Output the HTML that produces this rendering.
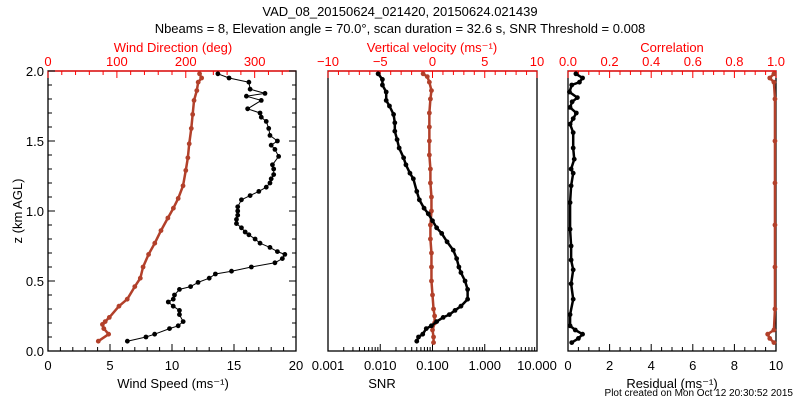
<!DOCTYPE html>
<html><head><meta charset="utf-8"><style>
body{margin:0;background:#fff;}
svg{display:block;font-family:"Liberation Sans",sans-serif;}
</style></head><body>
<svg id="c" width="800" height="400" viewBox="0 0 800 400">
<text x="400" y="16" text-anchor="middle" font-size="13">VAD_08_20150624_021420, 20150624.021439</text>
<text x="400" y="33" text-anchor="middle" font-size="13">Nbeams = 8, Elevation angle = 70.0°, scan duration = 32.6 s, SNR Threshold = 0.008</text>
<text x="22" y="211" text-anchor="middle" font-size="13" transform="rotate(-90 22 211)">z (km AGL)</text>
<text x="793" y="396" text-anchor="end" font-size="10">Plot created on Mon Oct 12 20:30:52 2015</text>
<g id="g"></g>
</svg>
<script>
// Panel 1: wind speed (black) and wind direction (red)
const wsZ=[0.07,0.10,0.12,0.16,0.18,0.21,0.26,0.29,0.32,0.35,0.37,0.40,0.44,0.46,0.49,0.52,0.55,0.57,0.60,0.63,0.66,0.69,0.71,0.74,0.77,0.80,0.83,0.85,0.88,0.91,0.94,0.97,1.00,1.03,1.08,1.11,1.14,1.17,1.20,1.23,1.26,1.30,1.33,1.39,1.44,1.47,1.50,1.54,1.59,1.64,1.67,1.70,1.73,1.79,1.82,1.84,1.87,1.92,1.95,1.98];
const wsVal=[6.4,7.9,8.6,9.8,10.5,10.9,10.6,10.6,10.1,9.7,10.1,10.2,10.6,11.5,12.1,13.0,13.5,14.8,16.4,18.3,18.9,19.1,18.5,17.9,17.1,16.7,16.2,15.9,15.6,15.2,15.2,15.3,15.3,15.3,15.6,16.3,17.0,17.6,17.9,18.0,18.2,18.2,18.1,18.6,18.3,18.0,18.5,17.9,17.8,17.6,17.2,17.1,16.1,17.2,16.0,17.5,16.3,16.2,14.6,13.7];
const wdZ=[0.07,0.12,0.16,0.19,0.21,0.24,0.32,0.37,0.46,0.52,0.60,0.69,0.77,0.86,0.95,1.02,1.09,1.18,1.29,1.38,1.48,1.59,1.69,1.79,1.86,1.92,1.95,1.98];
const wdVal=[73,88,81,79,83,89,103,115,126,134,138,146,155,164,174,182,189,196,200,203,205,208,210,212,216,218,223,220];
// Panel 2: SNR (black) and vertical velocity (red)
const snrZ=[0.07,0.10,0.12,0.16,0.18,0.21,0.24,0.26,0.29,0.32,0.37,0.44,0.50,0.56,0.60,0.66,0.72,0.78,0.84,0.88,0.93,0.98,1.02,1.08,1.14,1.23,1.27,1.33,1.38,1.45,1.51,1.57,1.63,1.69,1.75,1.79,1.85,1.90,1.94,1.98];
const snrVal=[0.050,0.054,0.065,0.076,0.095,0.12,0.16,0.21,0.27,0.35,0.47,0.47,0.42,0.35,0.32,0.29,0.25,0.19,0.15,0.12,0.10,0.083,0.069,0.056,0.050,0.043,0.037,0.031,0.028,0.023,0.021,0.019,0.019,0.018,0.015,0.013,0.013,0.011,0.011,0.0091];
const wZ=[0.06,0.10,0.15,0.20,0.25,0.30,0.40,0.50,0.60,0.70,0.80,0.90,1.00,1.10,1.20,1.30,1.40,1.50,1.60,1.70,1.80,1.86,1.92,1.96,1.98];
const wVal=[0.1,0.1,0.0,0.2,0.2,0.1,0.0,-0.1,-0.1,-0.1,-0.2,-0.2,-0.1,-0.1,-0.2,-0.2,-0.3,-0.3,-0.3,-0.3,-0.2,-0.1,-0.3,-0.5,-0.9];
// Panel 3: residual (black) and correlation (red)
const resZ=[0.06,0.09,0.12,0.15,0.18,0.26,0.37,0.48,0.58,0.65,0.75,0.87,1.06,1.18,1.27,1.30,1.37,1.45,1.56,1.62,1.66,1.70,1.74,1.78,1.81,1.85,1.90,1.92,1.95,1.98];
const resVal=[0.18,0.5,0.7,0.35,0.1,0.1,0.25,0.15,0.25,0.15,0.15,0.1,0.1,0.15,0.25,0.15,0.3,0.25,0.25,0.1,0.25,0.4,0.1,0.2,0.45,0.07,0.18,0.55,0.7,0.38];
const corZ=[0.06,0.09,0.12,0.15,0.3,0.6,0.9,1.2,1.5,1.8,1.92,1.95,1.98];
const corVal=[0.99,0.97,0.96,0.99,0.995,0.995,0.995,0.995,0.995,0.995,0.99,0.97,0.99];

const NS='http://www.w3.org/2000/svg', G=document.getElementById('g');
const RED='#ff0000', DRED='#b2402a';
function el(t,a,txt){const e=document.createElementNS(NS,t);for(const k in a)e.setAttribute(k,a[k]);if(txt!==undefined)e.textContent=txt;G.appendChild(e);return e;}
const Y0=351,Y1=71;
const yS=z=>Y0-(z/2)*(Y0-Y1);
const P=[{l:48,r:296},{l:328,r:537},{l:568,r:776}];
const lin=(p,a,b)=>v=>p.l+(v-a)/(b-a)*(p.r-p.l);
const x1b=lin(P[0],0,20), x1t=lin(P[0],0,360);
const x2b=v=>P[1].l+(Math.log10(v)+3)/4*(P[1].r-P[1].l), x2t=lin(P[1],-10,10);
const x3b=lin(P[2],0,10), x3t=lin(P[2],0,1);

P.forEach((p,i)=>{
  const r=el('rect',{x:p.l,y:Y1,width:p.r-p.l,height:Y0-Y1,fill:'none',stroke:'#000','stroke-width':1.3});
  
  
  const t=el('line',{x1:p.l,x2:p.r,y1:Y1,y2:Y1,stroke:RED,'stroke-width':1.3});
  
  
});
function tick(x,y,len,col){const e=el('line',{x1:x,x2:x,y1:y,y2:y+len,stroke:col,'stroke-width':1});}
function lab(x,y,s,col,anchor,name){const e=el('text',{x:x,y:y,'font-size':13,fill:col,'text-anchor':anchor||'middle'},s);}
// panel1
for(let v=0;v<=20;v++){tick(x1b(v),Y0,v%5?-4:-7,'#000');}
[0,5,10,15,20].forEach(v=>lab(x1b(v),370,String(v),'#000','middle','x-tick-label'));
for(let v=0;v<=340;v+=20){tick(x1t(v),Y1,v%100?4:7,RED);}
[0,100,200,300].forEach(v=>lab(x1t(v),66,String(v),RED,'middle','top-tick-label'));
for(let k=0;k<=20;k++){const y=yS(k/10),L=k%5?4:7;
 const a=el('line',{x1:P[0].l,x2:P[0].l+L,y1:y,y2:y,stroke:'#000'});
 const b=el('line',{x1:P[0].r,x2:P[0].r-L,y1:y,y2:y,stroke:'#000'});}
['0.0','0.5','1.0','1.5','2.0'].forEach((s,i)=>lab(44,yS(i*0.5)+5,s,'#000','end','y-tick-label'));
// panel2
for(let d=-3;d<1;d++)for(let m=1;m<10;m++){tick(x2b(m*Math.pow(10,d)),Y0,m==1?-7:-4,'#000');}
tick(x2b(10),Y0,-7,'#000');
['0.001','0.010','0.100','1.000','10.000'].forEach(s=>lab(x2b(parseFloat(s)),370,s,'#000','middle','snr-tick-label'));
for(let v=-10;v<=10;v++){tick(x2t(v),Y1,v%5?4:7,RED);}
['−10','−5','0','5','10'].forEach((s,i)=>lab(x2t(-10+5*i),66,s,RED,'middle','vel-tick-label'));
// panel3
for(let v=0;v<=10;v+=0.5){tick(x3b(v),Y0,v%2?-4:-7,'#000');}
[0,2,4,6,8,10].forEach(v=>lab(x3b(v),370,String(v),'#000','middle','residual-tick-label'));
for(let k=0;k<=20;k++){tick(x3t(k/20),Y1,k%4?4:7,RED);}
['0.0','0.2','0.4','0.6','0.8','1.0'].forEach(s=>lab(x3t(parseFloat(s)),66,s,RED,'middle','corr-tick-label'));
// titles
lab(173,52,'Wind Direction (deg)',RED,'middle','wind-direction-title');
lab(173,388,'Wind Speed (ms⁻¹)','#000','middle','wind-speed-title');
lab(432,52,'Vertical velocity (ms⁻¹)',RED,'middle','vertical-velocity-title');
lab(382,388,'SNR','#000','middle','snr-title');
lab(672,52,'Correlation',RED,'middle','correlation-title');
lab(672,388,'Residual (ms⁻¹)','#000','middle','residual-title');

function series(zs,vs,xf,col,name,lw){
  const pts=zs.map((z,i)=>[xf(vs[i]),yS(z)]);
  const pl=el('polyline',{points:pts.map(p=>p.join(',')).join(' '),fill:'none',stroke:col,'stroke-width':lw,'stroke-linejoin':'round'});
  
  
  pts.forEach(p=>{const c=el('circle',{cx:p[0],cy:p[1],r:2.4,fill:col});
    
    });
}
series(wdZ,wdVal,x1t,DRED,'wind-direction',2.5);
series(wsZ,wsVal,x1b,'#000','wind-speed',1);
series(wZ,wVal,x2t,DRED,'vertical-velocity',2.5);
series(snrZ,snrVal,x2b,'#000','snr',2.5);
series(corZ,corVal,x3t,DRED,'correlation',2.5);
series(resZ,resVal,x3b,'#000','residual',2.5);
</script>
</body></html>
